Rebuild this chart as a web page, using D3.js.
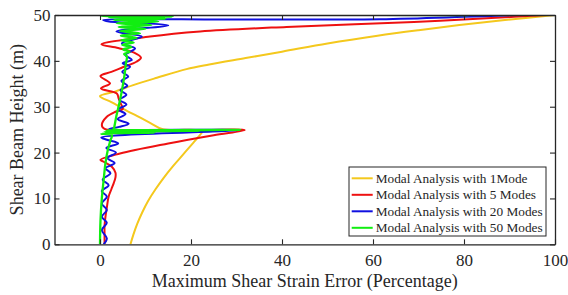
<!DOCTYPE html>
<html>
<head>
<meta charset="utf-8">
<script src="https://cdn.jsdelivr.net/npm/d3@7"></script>
<style>
  body { margin: 0; background: #fff; }
  svg { display: block; }
  text { font-family: "Liberation Serif", "Times New Roman", serif; fill: #262626; }
</style>
</head>
<body>
<svg id="chart"></svg>
<script>
// axis ticks
var xTicks = [0, 20, 40, 60, 80, 100];
var yTicks = [0, 10, 20, 30, 40, 50];

// series: [error %, height m]
var mode1 = [[6.7,0],[7.3,2],[8.2,4.5],[9.3,7],[10.6,9.5],[12.2,12],[14.0,14.5],[16.0,17],[18.2,19.5],
  [20.2,21.8],[21.5,23.3],[22.5,24.7],[13.8,25.1],[11.0,26.5],[8.1,28],[5.2,29.5],[2.5,31],[0,32.3],
  [3.3,33.3],[7.3,34.7],[12.5,36.3],[19,38.2],[24,39.2],[32,40.6],[40,42],[50,43.8],[61,45.5],
  [70,46.7],[79,47.8],[89,48.9],[100,50]];

var mode5 = [[1.0,0],[1.0,2],[1.0,4],[1.2,6],[1.5,8],[1.9,10.4],[2.5,12],[3.0,13.3],[3.4,14.6],
  [3.4,15.6],[2.6,16.9],[0.8,18],[0.1,18.4],[4.4,19.8],[15,22.0],[25,23.8],[31.8,24.9],[1.0,25.15],
  [0.4,26],[1.5,27.8],[3.4,28.9],[5.0,29.5],[4.6,30.6],[4.1,31.8],[3.7,32.9],[0.2,34.0],[2.2,35.1],
  [0.1,36.7],[2.5,37.6],[5.0,38.6],[8.0,39.8],[9.0,40.7],[7.5,41.8],[4.0,42.8],[0.3,43.6],[11,45.3],
  [22,46.4],[41,47.4],[69,48.5],[91,49.6],[98,50]];

var mode20 = [[0.8,0],[1.5,1.3],[0.4,3.1],[1.5,4.7],[0.4,6.0],[1.5,7.5],[0.4,8.9],[1.5,10.4],[0.4,11.6],
  [1.9,12.9],[0.6,14.1],[2.3,15.5],[1.2,16.6],[3.2,17.7],[1.6,18.8],[3.5,20.0],[1.4,21.0],[4.0,22.0],
  [1.5,22.8],[0.3,23.3],[30.5,24.9],[2.0,25.15],[4.2,25.6],[6.3,26.3],[3.9,27.3],[5.6,28.4],[4.0,29.4],
  [5.8,30.5],[4.3,31.5],[5.8,32.6],[4.5,33.6],[6.0,34.6],[4.7,35.6],[6.2,36.6],[4.9,37.6],[6.6,38.7],
  [5.0,39.5],[7.0,40.2],[5.6,41.3],[7.7,42.7],[4.8,43.8],[9.2,45.3],[3.6,46.4],[15.0,47.7],[2.0,48.6],
  [0.7,48.9],[30,49.0],[61.5,49.1],[80,49.6],[92,50]];

var mode50 = [[0,0],[0.1,5],[0.4,10],[0.8,14],[1.2,17.7],[1.7,20.5],[2.3,22.7],[2.6,23.8],[0.3,24.1],
  [12,24.35],[1.0,24.55],[22,24.75],[1.5,24.85],[30.8,24.97],[3.0,25.15],[3.1,25.4],[3.6,28],[4.3,31],
  [4.9,34],[5.4,37],[5.7,39.5],[5.9,41],[5.3,41.5],[6.5,42],[5.1,42.5],[6.9,43],[4.9,43.5],[7.4,44],
  [4.7,44.5],[8.0,45],[4.6,45.5],[8.8,46],[4.4,46.5],[10.0,47],[4.1,47.4],[11.3,47.8],[3.7,48.2],
  [12.8,48.6],[3.0,48.9],[14.5,49.2],[2.0,49.45],[16,49.65],[0.8,49.8],[0.1,49.92],[81,50]];

var seriesNames = ["Modal Analysis with 1Mode", "Modal Analysis with 5 Modes",
  "Modal Analysis with 20 Modes", "Modal Analysis with 50 Modes"];
var seriesColours = ["#f4c81d", "#ee1111", "#1010e0", "#11ee11"];

var margin = {top: 15, right: 13, bottom: 50.7, left: 54.5},
    width = 568 - margin.left - margin.right,
    height = 295 - margin.top - margin.bottom;

var x = d3.scaleLinear().domain([-10, 100]).range([0, width]);
var y = d3.scaleLinear().domain([0, 50]).range([height, 0]);

var svg = d3.select("#chart")
    .attr("width", 568)
    .attr("height", 295)
    .append("g")
    .attr("transform", "translate(" + margin.left + "," + margin.top + ")");

svg.append("defs").append("clipPath").attr("id", "clip")
    .append("rect").attr("width", width).attr("height", height);

var line = d3.line()
    .x(function(d) { return x(d[0]); })
    .y(function(d) { return y(d[1]); })
    .curve(d3.curveCatmullRom.alpha(0.5));

var allSeries = [mode1, mode5, mode20, mode50];

svg.append("g").attr("clip-path", "url(#clip)")
  .selectAll("path")
  .data(allSeries)
  .enter()
  .append("path")
    .attr("d", line)
    .attr("fill", "none")
    .attr("stroke", function(d, i) { return seriesColours[i]; })
    .attr("stroke-width", function(d, i) { return i == 3 ? 2.3 : 2; })
    .attr("stroke-linejoin", "round");

// axes (box with ticks on all sides)
function styleAxis(g) {
  g.selectAll("path").attr("stroke", "#262626").attr("stroke-width", 1.3);
  g.selectAll("line").attr("stroke", "#262626").attr("stroke-width", 1.1);
  g.selectAll("text").style("font-size", "17px").style("font-family", '"Liberation Serif", serif').attr("fill", "#262626");
}

svg.append("g")
    .attr("transform", "translate(0," + height + ")")
    .call(d3.axisBottom(x).tickValues(xTicks).tickSizeInner(-5).tickSizeOuter(0).tickPadding(10))
    .call(styleAxis);

svg.append("g")
    .call(d3.axisTop(x).tickValues(xTicks).tickSizeInner(-5).tickSizeOuter(0).tickFormat(""))
    .call(styleAxis);

svg.append("g")
    .call(d3.axisLeft(y).tickValues(yTicks).tickSizeInner(-5).tickSizeOuter(0).tickPadding(4))
    .call(styleAxis);

svg.append("g")
    .attr("transform", "translate(" + width + ",0)")
    .call(d3.axisRight(y).tickValues(yTicks).tickSizeInner(-5).tickSizeOuter(0).tickFormat(""))
    .call(styleAxis);

// axis titles
svg.append("text")
    .attr("x", width / 2)
    .attr("y", height + 42.5)
    .attr("text-anchor", "middle")
    .style("font-size", "18px")
    .text("Maximum Shear Strain Error (Percentage)");

svg.append("text")
    .attr("transform", "rotate(-90)")
    .attr("x", -height / 2)
    .attr("y", -31.5)
    .attr("text-anchor", "middle")
    .style("font-size", "18px")
    .text("Shear Beam Height (m)");

// legend
var legend = svg.append("g").attr("transform", "translate(" + (349 - margin.left) + "," + (167 - margin.top) + ")");
legend.append("rect")
    .attr("width", 197).attr("height", 69)
    .attr("fill", "#fff").attr("stroke", "#262626").attr("stroke-width", 1);

var rows = legend.selectAll("g.row")
    .data(seriesNames)
    .enter().append("g")
    .attr("class", "row")
    .attr("transform", function(d, i) { return "translate(0," + (11.3 + i * 16.5) + ")"; });

rows.append("line")
    .attr("x1", 2.7).attr("x2", 23.7)
    .attr("stroke", function(d, i) { return seriesColours[i]; })
    .attr("stroke-width", 2);

rows.append("text")
    .attr("x", 26.7)
    .attr("dy", "0.35em")
    .style("font-size", "13.3px")
    .text(function(d) { return d; });
</script>
</body>
</html>
